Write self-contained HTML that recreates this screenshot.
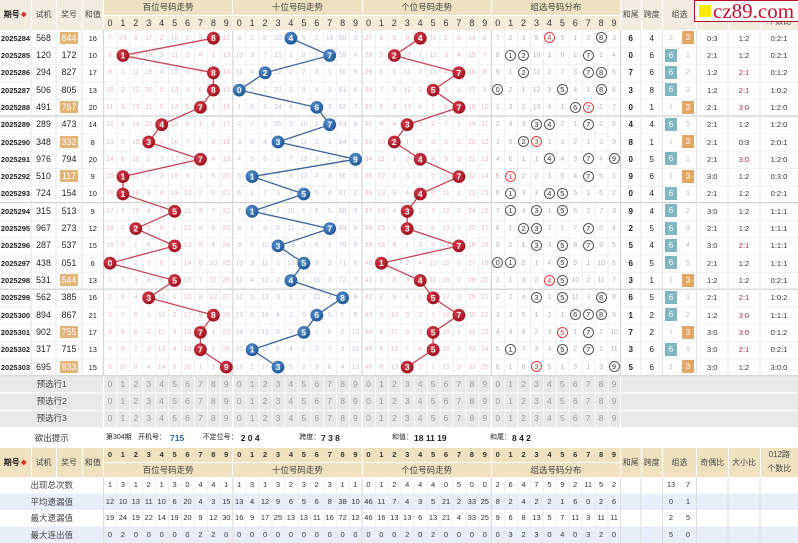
<!DOCTYPE html>
<html><head><meta charset="utf-8"><style>
*{margin:0;padding:0;box-sizing:border-box}
body{width:798px;height:543px;position:relative;overflow:hidden;background:#fff;font-family:"Liberation Sans","Noto Sans CJK SC",sans-serif;color:#333}
.x{position:absolute;display:flex;align-items:center;justify-content:center;text-align:center;font-size:8px;color:#444;white-space:nowrap}
.r{position:absolute;left:0;width:798px;height:17.31px;display:flex;align-items:center;line-height:17px;z-index:1}
.r span{display:block;flex:none;text-align:center;white-space:nowrap}
.a{width:31px;font-size:7.5px;font-weight:bold;color:#222}
.b{width:25px;font-size:8.8px;color:#222}
.c{width:26px;font-size:8.8px;color:#222}
.d{width:21.5px;font-size:7.5px;color:#222}
.s{display:flex!important;width:129.25px}
.s i{display:block;width:12.925px;flex:none;font-style:normal;text-align:center;font-size:7px}
.p i{color:#e3c2c6}
.q i{color:#c4c9d7}
.g i{color:#b7b7b7}
.g b{display:inline-block;width:11px;height:11px;border:1px solid #555;border-radius:50%;font-size:7.5px;line-height:9px;font-weight:normal;color:#333;vertical-align:middle;background:#fff}
.g b.z{border-color:#e23b3b;color:#e23b3b}
.hd i{color:#333;font-size:9px}
.bd i{color:#333;font-size:7.5px;font-weight:bold}
.v i{color:#9a9a9a;font-size:8.5px}
.w i{color:#333;font-size:7.5px}
em{display:inline-block;font-style:normal;background:#e2b476;color:#fff;width:18px;line-height:12px}
.e{width:20.5px;font-size:8px;font-weight:bold;color:#222}
.f{width:21.5px;font-size:8px;color:#222}
.k{display:flex!important;width:34px}
.k i{display:block;width:17px;font-style:normal;text-align:center;font-size:7px;color:#bbb}
.kw i{color:#333;font-size:7.5px}
.k u{display:inline-block;width:12px;height:13px;line-height:13px;text-decoration:none;color:#fff;font-size:8px;vertical-align:middle}
u.m6{background:#80b6bf}
u.m3{background:#e1a866}
.h{width:31.5px;font-size:7.5px;color:#333}
.l{width:32px;font-size:7.5px;color:#333}
.m{width:38px;font-size:7.5px;color:#333}
.rd{color:#a3324a!important}
.lb{width:103.5px;font-size:8.5px;color:#444}
.t{position:absolute;top:431.7px;line-height:12px;font-size:7px;color:#222;white-space:nowrap;z-index:1}
.t b{font-size:8.5px}
</style></head><body>

<svg width="798" height="543" style="position:absolute;left:0;top:0">
<defs>
<pattern id="gv" x="103.5" y="0" width="12.925" height="10" patternUnits="userSpaceOnUse"><rect width="0.8" height="10" fill="#ebebeb"/></pattern>
<pattern id="gw" x="103.5" y="0" width="12.925" height="10" patternUnits="userSpaceOnUse"><rect width="1" height="10" fill="#f6f6f6"/></pattern>
<pattern id="gh" x="0" y="29.5" width="10" height="17.31" patternUnits="userSpaceOnUse"><rect width="10" height="0.8" fill="#efefef"/></pattern>
</defs>
<rect x="0" y="29.5" width="798" height="346.2" fill="url(#gh)"/>
<rect x="103.5" y="29.5" width="517" height="346.2" fill="url(#gv)"/>
<g fill="#e8e8e8">
<rect x="0" y="376.2" width="798" height="16.3"/>
<rect x="0" y="393.5" width="798" height="16.3"/>
<rect x="0" y="410.8" width="798" height="16.3"/>
</g>
<rect x="103.5" y="376" width="517" height="51.5" fill="url(#gw)"/>
<g fill="#e7eef8">
<rect x="0" y="493.5" width="798" height="16.5"/>
<rect x="0" y="526.5" width="798" height="16.5"/>
</g>
<rect x="103.5" y="477" width="517" height="66" fill="url(#gv)"/>
<path d="M103.5 29.5V375.7M232.75 29.5V375.7M362 29.5V375.7M491.25 29.5V375.7M620.5 29.5V375.7" stroke="#d4d4d4"/>
<path d="M0 116.05H798M0 202.6H798M0 289.15H798M0 375.7H798" stroke="#cbcbcb"/>
<path d="M31 29.5V375.7M56 29.5V375.7M82 29.5V375.7M641 29.5V375.7M662.5 29.5V375.7M696.5 29.5V375.7M728 29.5V375.7M760 29.5V375.7" stroke="#e6e6e6"/>
<path d="M103.5 477V543M232.75 477V543M362 477V543M491.25 477V543M620.5 477V543M641 477V543M662.5 477V543M696.5 477V543M728 477V543M760 477V543" stroke="#dcdcdc"/>
<path d="M103.5 376V427M232.75 376V427M362 376V427M491.25 376V427M620.5 376V427" stroke="#fff"/>
</svg>

<!-- top header -->
<div class="x" style="left:0;top:0;width:30.5px;height:29.5px;background:#f3ede1;font-weight:bold;color:#222">期号<span style="color:#d33;font-size:6px;margin-left:1px">◆</span></div>
<div class="x" style="left:31.5px;top:0;width:24px;height:29.5px;background:#f3ede1">试机</div>
<div class="x" style="left:56.5px;top:0;width:25px;height:29.5px;background:#f3ede1">奖号</div>
<div class="x" style="left:82.5px;top:0;width:20.5px;height:29.5px;background:#f3ede1">和值</div>
<div class="x" style="left:104px;top:0;width:128.25px;height:14.5px;background:#efe2c2;font-size:8.5px">百位号码走势</div>
<div class="x" style="left:233.25px;top:0;width:128.25px;height:14.5px;background:#efe2c2;font-size:8.5px">十位号码走势</div>
<div class="x" style="left:362.5px;top:0;width:128.25px;height:14.5px;background:#efe2c2;font-size:8.5px">个位号码走势</div>
<div class="x" style="left:491.75px;top:0;width:128.25px;height:14.5px;background:#efe2c2;font-size:8.5px">组选号码分布</div>
<div class="x" style="left:104px;top:15.5px;width:128.25px;height:14px;background:#f5ecd7"></div>
<div class="x" style="left:233.25px;top:15.5px;width:128.25px;height:14px;background:#f5ecd7"></div>
<div class="x" style="left:362.5px;top:15.5px;width:128.25px;height:14px;background:#f5ecd7"></div>
<div class="x" style="left:491.75px;top:15.5px;width:128.25px;height:14px;background:#f5ecd7"></div>
<div class="x" style="left:621px;top:0;width:19.5px;height:29.5px;background:#f3ede1">和尾</div>
<div class="x" style="left:641.5px;top:0;width:20.5px;height:29.5px;background:#f3ede1">跨度</div>
<div class="x" style="left:663px;top:0;width:33px;height:29.5px;background:#f3ede1">组选</div>
<div class="x" style="left:697px;top:0;width:30.5px;height:29.5px;background:#f3ede1">奇偶比</div>
<div class="x" style="left:728.5px;top:0;width:31px;height:29.5px;background:#f3ede1">大小比</div>
<div class="x" style="left:760.5px;top:0;width:37.5px;height:29.5px;background:#f3ede1;line-height:14px"><span>012路<br>个数比</span></div>
<div class="r" style="top:15.5px;height:14px;line-height:14px"><span style="width:103.5px"></span><span class="s hd"><i>0</i><i>1</i><i>2</i><i>3</i><i>4</i><i>5</i><i>6</i><i>7</i><i>8</i><i>9</i></span><span class="s hd"><i>0</i><i>1</i><i>2</i><i>3</i><i>4</i><i>5</i><i>6</i><i>7</i><i>8</i><i>9</i></span><span class="s hd"><i>0</i><i>1</i><i>2</i><i>3</i><i>4</i><i>5</i><i>6</i><i>7</i><i>8</i><i>9</i></span><span class="s hd"><i>0</i><i>1</i><i>2</i><i>3</i><i>4</i><i>5</i><i>6</i><i>7</i><i>8</i><i>9</i></span></div>

<!-- data rows -->
<div class="r" style="top:29.5px"><span class="a">2025284</span><span class="b">568</span><span class="c"><em>844</em></span><span class="d">16</span><span class="s p"><i>7</i><i>24</i><i>9</i><i>17</i><i>2</i><i>10</i><i>1</i><i>3</i><i></i><i>12</i></span><span class="s q"><i>9</i><i>2</i><i>6</i><i>20</i><i></i><i>5</i><i>1</i><i>18</i><i>58</i><i>3</i></span><span class="s p"><i>27</i><i>4</i><i>5</i><i>9</i><i></i><i>11</i><i>2</i><i>3</i><i>14</i><i>6</i></span><span class="s g"><i>7</i><i>2</i><i>3</i><i>9</i><i><b class="z">4</b></i><i>5</i><i>1</i><i>3</i><i><b>8</b></i><i>3</i></span><span class="e">6</span><span class="f">4</span><span class="k"><i>2</i><i><u class="m3">3</u></i></span><span class="h">0:3</span><span class="l">1:2</span><span class="m">0:2:1</span></div>

<div class="r" style="top:46.81px"><span class="a">2025285</span><span class="b">120</span><span class="c">172</span><span class="d">10</span><span class="s p"><i>8</i><i></i><i>10</i><i>18</i><i>3</i><i>11</i><i>2</i><i>4</i><i>1</i><i>13</i></span><span class="s q"><i>10</i><i>3</i><i>7</i><i>21</i><i>1</i><i>6</i><i>2</i><i></i><i>59</i><i>4</i></span><span class="s p"><i>28</i><i>5</i><i></i><i>10</i><i>1</i><i>12</i><i>3</i><i>4</i><i>15</i><i>7</i></span><span class="s g"><i>8</i><i><b>1</b></i><i><b>2</b></i><i>10</i><i>1</i><i>6</i><i>2</i><i><b>7</b></i><i>1</i><i>4</i></span><span class="e">0</span><span class="f">6</span><span class="k"><i><u class="m6">6</u></i><i>1</i></span><span class="h">2:1</span><span class="l">1:2</span><span class="m">0:2:1</span></div>

<div class="r" style="top:64.12px"><span class="a">2025286</span><span class="b">294</span><span class="c">827</span><span class="d">17</span><span class="s p"><i>9</i><i>1</i><i>11</i><i>19</i><i>4</i><i>12</i><i>3</i><i>5</i><i></i><i>14</i></span><span class="s q"><i>11</i><i>4</i><i></i><i>22</i><i>2</i><i>7</i><i>3</i><i>1</i><i>60</i><i>5</i></span><span class="s p"><i>29</i><i>6</i><i>1</i><i>11</i><i>2</i><i>13</i><i>4</i><i></i><i>16</i><i>8</i></span><span class="s g"><i>9</i><i>1</i><i><b>2</b></i><i>11</i><i>2</i><i>7</i><i>3</i><i><b>7</b></i><i><b>8</b></i><i>5</i></span><span class="e">7</span><span class="f">6</span><span class="k"><i><u class="m6">6</u></i><i>2</i></span><span class="h">1:2</span><span class="l rd">2:1</span><span class="m">0:1:2</span></div>

<div class="r" style="top:81.43px"><span class="a">2025287</span><span class="b">506</span><span class="c">805</span><span class="d">13</span><span class="s p"><i>10</i><i>2</i><i>12</i><i>20</i><i>5</i><i>13</i><i>4</i><i>6</i><i></i><i>15</i></span><span class="s q"><i></i><i>5</i><i>1</i><i>23</i><i>3</i><i>8</i><i>4</i><i>2</i><i>61</i><i>6</i></span><span class="s p"><i>30</i><i>7</i><i>2</i><i>12</i><i>3</i><i></i><i>5</i><i>1</i><i>17</i><i>9</i></span><span class="s g"><i><b>0</b></i><i>2</i><i>1</i><i>12</i><i>3</i><i><b>5</b></i><i>4</i><i>1</i><i><b>8</b></i><i>6</i></span><span class="e">3</span><span class="f">8</span><span class="k"><i><u class="m6">6</u></i><i>3</i></span><span class="h">1:2</span><span class="l rd">2:1</span><span class="m">1:0:2</span></div>

<div class="r" style="top:98.74px"><span class="a">2025288</span><span class="b">491</span><span class="c"><em>767</em></span><span class="d">20</span><span class="s p"><i>11</i><i>3</i><i>13</i><i>21</i><i>6</i><i>14</i><i>5</i><i></i><i>1</i><i>16</i></span><span class="s q"><i>1</i><i>6</i><i>2</i><i>24</i><i>4</i><i>9</i><i></i><i>3</i><i>62</i><i>7</i></span><span class="s p"><i>31</i><i>8</i><i>3</i><i>13</i><i>4</i><i>1</i><i>6</i><i></i><i>18</i><i>10</i></span><span class="s g"><i>1</i><i>3</i><i>2</i><i>13</i><i>4</i><i>1</i><i><b>6</b></i><i><b class="z">7</b></i><i>1</i><i>7</i></span><span class="e">0</span><span class="f">1</span><span class="k"><i>1</i><i><u class="m3">3</u></i></span><span class="h">2:1</span><span class="l rd">3:0</span><span class="m">1:2:0</span></div>

<div class="r" style="top:116.05px"><span class="a">2025289</span><span class="b">289</span><span class="c">473</span><span class="d">14</span><span class="s p"><i>12</i><i>4</i><i>14</i><i>22</i><i></i><i>15</i><i>6</i><i>1</i><i>2</i><i>17</i></span><span class="s q"><i>2</i><i>7</i><i>3</i><i>25</i><i>5</i><i>10</i><i>1</i><i></i><i>63</i><i>8</i></span><span class="s p"><i>32</i><i>9</i><i>4</i><i></i><i>5</i><i>2</i><i>7</i><i>1</i><i>19</i><i>11</i></span><span class="s g"><i>2</i><i>4</i><i>3</i><i><b>3</b></i><i><b>4</b></i><i>2</i><i>1</i><i><b>7</b></i><i>2</i><i>8</i></span><span class="e">4</span><span class="f">4</span><span class="k"><i><u class="m6">6</u></i><i>1</i></span><span class="h">2:1</span><span class="l">1:2</span><span class="m">1:2:0</span></div>

<div class="r" style="top:133.36px"><span class="a">2025290</span><span class="b">348</span><span class="c"><em>332</em></span><span class="d">8</span><span class="s p"><i>13</i><i>5</i><i>15</i><i></i><i>1</i><i>16</i><i>7</i><i>2</i><i>3</i><i>18</i></span><span class="s q"><i>3</i><i>8</i><i>4</i><i></i><i>6</i><i>11</i><i>2</i><i>1</i><i>64</i><i>9</i></span><span class="s p"><i>33</i><i>10</i><i></i><i>1</i><i>6</i><i>3</i><i>8</i><i>2</i><i>20</i><i>12</i></span><span class="s g"><i>3</i><i>5</i><i><b>2</b></i><i><b class="z">3</b></i><i>1</i><i>3</i><i>2</i><i>1</i><i>3</i><i>9</i></span><span class="e">8</span><span class="f">1</span><span class="k"><i>1</i><i><u class="m3">3</u></i></span><span class="h">2:1</span><span class="l">0:3</span><span class="m">2:0:1</span></div>

<div class="r" style="top:150.67px"><span class="a">2025291</span><span class="b">976</span><span class="c">794</span><span class="d">20</span><span class="s p"><i>14</i><i>6</i><i>16</i><i>1</i><i>2</i><i>17</i><i>8</i><i></i><i>4</i><i>19</i></span><span class="s q"><i>4</i><i>9</i><i>5</i><i>1</i><i>7</i><i>12</i><i>3</i><i>2</i><i>65</i><i></i></span><span class="s p"><i>34</i><i>11</i><i>1</i><i>2</i><i></i><i>4</i><i>9</i><i>3</i><i>21</i><i>13</i></span><span class="s g"><i>4</i><i>6</i><i>1</i><i>1</i><i><b>4</b></i><i>4</i><i>3</i><i><b>7</b></i><i>4</i><i><b>9</b></i></span><span class="e">0</span><span class="f">5</span><span class="k"><i><u class="m6">6</u></i><i>1</i></span><span class="h">2:1</span><span class="l rd">3:0</span><span class="m">1:2:0</span></div>

<div class="r" style="top:167.98px"><span class="a">2025292</span><span class="b">510</span><span class="c"><em>117</em></span><span class="d">9</span><span class="s p"><i>15</i><i></i><i>17</i><i>2</i><i>3</i><i>18</i><i>9</i><i>1</i><i>5</i><i>20</i></span><span class="s q"><i>5</i><i></i><i>6</i><i>2</i><i>8</i><i>13</i><i>4</i><i>3</i><i>66</i><i>1</i></span><span class="s p"><i>35</i><i>12</i><i>2</i><i>3</i><i>1</i><i>5</i><i>10</i><i></i><i>22</i><i>14</i></span><span class="s g"><i>5</i><i><b class="z">1</b></i><i>2</i><i>2</i><i>1</i><i>5</i><i>4</i><i><b>7</b></i><i>5</i><i>1</i></span><span class="e">9</span><span class="f">6</span><span class="k"><i>1</i><i><u class="m3">3</u></i></span><span class="h">3:0</span><span class="l">1:2</span><span class="m">0:3:0</span></div>

<div class="r" style="top:185.29px"><span class="a">2025293</span><span class="b">724</span><span class="c">154</span><span class="d">10</span><span class="s p"><i>16</i><i></i><i>18</i><i>3</i><i>4</i><i>19</i><i>10</i><i>2</i><i>6</i><i>21</i></span><span class="s q"><i>6</i><i>1</i><i>7</i><i>3</i><i>9</i><i></i><i>5</i><i>4</i><i>67</i><i>2</i></span><span class="s p"><i>36</i><i>13</i><i>3</i><i>4</i><i></i><i>6</i><i>11</i><i>1</i><i>23</i><i>15</i></span><span class="s g"><i>6</i><i><b>1</b></i><i>3</i><i>3</i><i><b>4</b></i><i><b>5</b></i><i>5</i><i>1</i><i>6</i><i>2</i></span><span class="e">0</span><span class="f">4</span><span class="k"><i><u class="m6">6</u></i><i>1</i></span><span class="h">2:1</span><span class="l">1:2</span><span class="m">0:2:1</span></div>

<div class="r" style="top:202.6px"><span class="a">2025294</span><span class="b">315</span><span class="c">513</span><span class="d">9</span><span class="s p"><i>17</i><i>1</i><i>19</i><i>4</i><i>5</i><i></i><i>11</i><i>3</i><i>7</i><i>22</i></span><span class="s q"><i>7</i><i></i><i>8</i><i>4</i><i>10</i><i>1</i><i>6</i><i>5</i><i>68</i><i>3</i></span><span class="s p"><i>37</i><i>14</i><i>4</i><i></i><i>1</i><i>7</i><i>12</i><i>2</i><i>24</i><i>16</i></span><span class="s g"><i>7</i><i><b>1</b></i><i>4</i><i><b>3</b></i><i>1</i><i><b>5</b></i><i>6</i><i>2</i><i>7</i><i>3</i></span><span class="e">9</span><span class="f">4</span><span class="k"><i><u class="m6">6</u></i><i>2</i></span><span class="h">3:0</span><span class="l">1:2</span><span class="m">1:1:1</span></div>

<div class="r" style="top:219.91px"><span class="a">2025295</span><span class="b">967</span><span class="c">273</span><span class="d">12</span><span class="s p"><i>18</i><i>2</i><i></i><i>5</i><i>6</i><i>1</i><i>12</i><i>4</i><i>8</i><i>23</i></span><span class="s q"><i>8</i><i>1</i><i>9</i><i>5</i><i>11</i><i>2</i><i>7</i><i></i><i>69</i><i>4</i></span><span class="s p"><i>38</i><i>15</i><i>5</i><i></i><i>2</i><i>8</i><i>13</i><i>3</i><i>25</i><i>17</i></span><span class="s g"><i>8</i><i>1</i><i><b>2</b></i><i><b>3</b></i><i>2</i><i>1</i><i>7</i><i><b>7</b></i><i>8</i><i>4</i></span><span class="e">2</span><span class="f">5</span><span class="k"><i><u class="m6">6</u></i><i>3</i></span><span class="h">2:1</span><span class="l">1:2</span><span class="m">1:1:1</span></div>

<div class="r" style="top:237.22px"><span class="a">2025296</span><span class="b">287</span><span class="c">537</span><span class="d">15</span><span class="s p"><i>19</i><i>3</i><i>1</i><i>6</i><i>7</i><i></i><i>13</i><i>5</i><i>9</i><i>24</i></span><span class="s q"><i>9</i><i>2</i><i>10</i><i></i><i>12</i><i>3</i><i>8</i><i>1</i><i>70</i><i>5</i></span><span class="s p"><i>39</i><i>16</i><i>6</i><i>1</i><i>3</i><i>9</i><i>14</i><i></i><i>26</i><i>18</i></span><span class="s g"><i>9</i><i>2</i><i>1</i><i><b>3</b></i><i>3</i><i><b>5</b></i><i>8</i><i><b>7</b></i><i>9</i><i>5</i></span><span class="e">5</span><span class="f">4</span><span class="k"><i><u class="m6">6</u></i><i>4</i></span><span class="h">3:0</span><span class="l rd">2:1</span><span class="m">1:1:1</span></div>

<div class="r" style="top:254.53px"><span class="a">2025297</span><span class="b">438</span><span class="c">051</span><span class="d">6</span><span class="s p"><i></i><i>4</i><i>2</i><i>7</i><i>8</i><i>1</i><i>14</i><i>6</i><i>10</i><i>25</i></span><span class="s q"><i>10</i><i>3</i><i>11</i><i>1</i><i>13</i><i></i><i>9</i><i>2</i><i>71</i><i>6</i></span><span class="s p"><i>40</i><i></i><i>7</i><i>2</i><i>4</i><i>10</i><i>15</i><i>1</i><i>27</i><i>19</i></span><span class="s g"><i><b>0</b></i><i><b>1</b></i><i>2</i><i>1</i><i>4</i><i><b>5</b></i><i>9</i><i>1</i><i>10</i><i>6</i></span><span class="e">6</span><span class="f">5</span><span class="k"><i><u class="m6">6</u></i><i>5</i></span><span class="h">2:1</span><span class="l">1:2</span><span class="m">1:1:1</span></div>

<div class="r" style="top:271.84px"><span class="a">2025298</span><span class="b">531</span><span class="c"><em>544</em></span><span class="d">13</span><span class="s p"><i>1</i><i>5</i><i>3</i><i>8</i><i>9</i><i></i><i>15</i><i>7</i><i>11</i><i>26</i></span><span class="s q"><i>11</i><i>4</i><i>12</i><i>2</i><i></i><i>1</i><i>10</i><i>3</i><i>72</i><i>7</i></span><span class="s p"><i>41</i><i>1</i><i>8</i><i>3</i><i></i><i>11</i><i>16</i><i>2</i><i>28</i><i>20</i></span><span class="s g"><i>1</i><i>1</i><i>3</i><i>2</i><i><b class="z">4</b></i><i><b>5</b></i><i>10</i><i>2</i><i>11</i><i>7</i></span><span class="e">3</span><span class="f">1</span><span class="k"><i>1</i><i><u class="m3">3</u></i></span><span class="h">1:2</span><span class="l">1:2</span><span class="m">0:2:1</span></div>

<div class="r" style="top:289.15px"><span class="a">2025299</span><span class="b">562</span><span class="c">385</span><span class="d">16</span><span class="s p"><i>2</i><i>6</i><i>4</i><i></i><i>10</i><i>1</i><i>16</i><i>8</i><i>12</i><i>27</i></span><span class="s q"><i>12</i><i>5</i><i>13</i><i>3</i><i>1</i><i>2</i><i>11</i><i>4</i><i></i><i>8</i></span><span class="s p"><i>42</i><i>2</i><i>9</i><i>4</i><i>1</i><i></i><i>17</i><i>3</i><i>29</i><i>21</i></span><span class="s g"><i>2</i><i>2</i><i>4</i><i><b>3</b></i><i>1</i><i><b>5</b></i><i>11</i><i>3</i><i><b>8</b></i><i>8</i></span><span class="e">6</span><span class="f">5</span><span class="k"><i><u class="m6">6</u></i><i>1</i></span><span class="h">2:1</span><span class="l rd">2:1</span><span class="m">1:0:2</span></div>

<div class="r" style="top:306.46px"><span class="a">2025300</span><span class="b">894</span><span class="c">867</span><span class="d">21</span><span class="s p"><i>3</i><i>7</i><i>5</i><i>1</i><i>11</i><i>2</i><i>17</i><i>9</i><i></i><i>28</i></span><span class="s q"><i>13</i><i>6</i><i>14</i><i>4</i><i>2</i><i>3</i><i></i><i>5</i><i>1</i><i>9</i></span><span class="s p"><i>43</i><i>3</i><i>10</i><i>5</i><i>2</i><i>1</i><i>18</i><i></i><i>30</i><i>22</i></span><span class="s g"><i>3</i><i>3</i><i>5</i><i>1</i><i>2</i><i>1</i><i><b>6</b></i><i><b>7</b></i><i><b>8</b></i><i>9</i></span><span class="e">1</span><span class="f">2</span><span class="k"><i><u class="m6">6</u></i><i>2</i></span><span class="h">1:2</span><span class="l rd">3:0</span><span class="m">1:1:1</span></div>

<div class="r" style="top:323.77px"><span class="a">2025301</span><span class="b">902</span><span class="c"><em>755</em></span><span class="d">17</span><span class="s p"><i>4</i><i>8</i><i>6</i><i>2</i><i>12</i><i>3</i><i>18</i><i></i><i>1</i><i>29</i></span><span class="s q"><i>14</i><i>7</i><i>15</i><i>5</i><i>3</i><i></i><i>1</i><i>6</i><i>2</i><i>10</i></span><span class="s p"><i>44</i><i>4</i><i>11</i><i>6</i><i>3</i><i></i><i>19</i><i>1</i><i>31</i><i>23</i></span><span class="s g"><i>4</i><i>4</i><i>6</i><i>2</i><i>3</i><i><b class="z">5</b></i><i>1</i><i><b>7</b></i><i>1</i><i>10</i></span><span class="e">7</span><span class="f">2</span><span class="k"><i>1</i><i><u class="m3">3</u></i></span><span class="h">3:0</span><span class="l rd">3:0</span><span class="m">0:1:2</span></div>

<div class="r" style="top:341.08px"><span class="a">2025302</span><span class="b">317</span><span class="c">715</span><span class="d">13</span><span class="s p"><i>5</i><i>9</i><i>7</i><i>3</i><i>13</i><i>4</i><i>19</i><i></i><i>2</i><i>30</i></span><span class="s q"><i>15</i><i></i><i>16</i><i>6</i><i>4</i><i>1</i><i>2</i><i>7</i><i>3</i><i>11</i></span><span class="s p"><i>45</i><i>5</i><i>12</i><i>7</i><i>4</i><i></i><i>20</i><i>2</i><i>32</i><i>24</i></span><span class="s g"><i>5</i><i><b>1</b></i><i>7</i><i>3</i><i>4</i><i><b>5</b></i><i>2</i><i><b>7</b></i><i>2</i><i>11</i></span><span class="e">3</span><span class="f">6</span><span class="k"><i><u class="m6">6</u></i><i>1</i></span><span class="h">3:0</span><span class="l rd">2:1</span><span class="m">0:2:1</span></div>

<div class="r" style="top:358.39px"><span class="a">2025303</span><span class="b">695</span><span class="c"><em>933</em></span><span class="d">15</span><span class="s p"><i>6</i><i>10</i><i>8</i><i>4</i><i>14</i><i>5</i><i>20</i><i>1</i><i>3</i><i></i></span><span class="s q"><i>16</i><i>1</i><i>17</i><i></i><i>5</i><i>2</i><i>3</i><i>8</i><i>4</i><i>12</i></span><span class="s p"><i>46</i><i>6</i><i>13</i><i></i><i>5</i><i>1</i><i>21</i><i>3</i><i>33</i><i>25</i></span><span class="s g"><i>6</i><i>1</i><i>8</i><i><b class="z">3</b></i><i>5</i><i>1</i><i>3</i><i>1</i><i>3</i><i><b>9</b></i></span><span class="e">5</span><span class="f">6</span><span class="k"><i>1</i><i><u class="m3">3</u></i></span><span class="h">3:0</span><span class="l">1:2</span><span class="m">3:0:0</span></div>

<!-- preset rows -->
<div class="r" style="top:375.7px"><span class="lb">预选行1</span><span class="s v"><i>0</i><i>1</i><i>2</i><i>3</i><i>4</i><i>5</i><i>6</i><i>7</i><i>8</i><i>9</i></span><span class="s v"><i>0</i><i>1</i><i>2</i><i>3</i><i>4</i><i>5</i><i>6</i><i>7</i><i>8</i><i>9</i></span><span class="s v"><i>0</i><i>1</i><i>2</i><i>3</i><i>4</i><i>5</i><i>6</i><i>7</i><i>8</i><i>9</i></span><span class="s v"><i>0</i><i>1</i><i>2</i><i>3</i><i>4</i><i>5</i><i>6</i><i>7</i><i>8</i><i>9</i></span></div>
<div class="r" style="top:393.01px"><span class="lb">预选行2</span><span class="s v"><i>0</i><i>1</i><i>2</i><i>3</i><i>4</i><i>5</i><i>6</i><i>7</i><i>8</i><i>9</i></span><span class="s v"><i>0</i><i>1</i><i>2</i><i>3</i><i>4</i><i>5</i><i>6</i><i>7</i><i>8</i><i>9</i></span><span class="s v"><i>0</i><i>1</i><i>2</i><i>3</i><i>4</i><i>5</i><i>6</i><i>7</i><i>8</i><i>9</i></span><span class="s v"><i>0</i><i>1</i><i>2</i><i>3</i><i>4</i><i>5</i><i>6</i><i>7</i><i>8</i><i>9</i></span></div>
<div class="r" style="top:410.32px"><span class="lb">预选行3</span><span class="s v"><i>0</i><i>1</i><i>2</i><i>3</i><i>4</i><i>5</i><i>6</i><i>7</i><i>8</i><i>9</i></span><span class="s v"><i>0</i><i>1</i><i>2</i><i>3</i><i>4</i><i>5</i><i>6</i><i>7</i><i>8</i><i>9</i></span><span class="s v"><i>0</i><i>1</i><i>2</i><i>3</i><i>4</i><i>5</i><i>6</i><i>7</i><i>8</i><i>9</i></span><span class="s v"><i>0</i><i>1</i><i>2</i><i>3</i><i>4</i><i>5</i><i>6</i><i>7</i><i>8</i><i>9</i></span></div>

<!-- hint row -->
<div class="x" style="left:0;top:428px;width:103.5px;height:19px;font-size:8.5px;color:#333">欲出提示</div>
<div class="t" style="left:106px">第304期</div>
<div class="t" style="left:138px">开机号：</div>
<div class="t" style="left:170px"><b style="color:#2f62a8">715</b></div>
<div class="t" style="left:202.7px">不定位号：</div>
<div class="t" style="left:240.7px"><b>2 0 4</b></div>
<div class="t" style="left:299.3px">跨度：</div>
<div class="t" style="left:321px"><b>7 3 8</b></div>
<div class="t" style="left:392px">和值：</div>
<div class="t" style="left:414px"><b>18 11 19</b></div>
<div class="t" style="left:490px">和尾：</div>
<div class="t" style="left:512px"><b>8 4 2</b></div>

<!-- bottom header -->
<div class="x" style="left:0;top:447.5px;width:30.5px;height:29.5px;background:#f0e2c0;font-weight:bold;color:#222">期号<span style="color:#d33;font-size:6px;margin-left:1px">◆</span></div>
<div class="x" style="left:31.5px;top:447.5px;width:24px;height:29.5px;background:#f0e2c0">试机</div>
<div class="x" style="left:56.5px;top:447.5px;width:25px;height:29.5px;background:#f0e2c0">奖号</div>
<div class="x" style="left:82.5px;top:447.5px;width:20.5px;height:29.5px;background:#f0e2c0">和值</div>
<div class="x" style="left:104px;top:447.5px;width:128.25px;height:14px;background:#f0e2c0"></div>
<div class="x" style="left:233.25px;top:447.5px;width:128.25px;height:14px;background:#f0e2c0"></div>
<div class="x" style="left:362.5px;top:447.5px;width:128.25px;height:14px;background:#f0e2c0"></div>
<div class="x" style="left:491.75px;top:447.5px;width:128.25px;height:14px;background:#f0e2c0"></div>
<div class="x" style="left:104px;top:462.5px;width:128.25px;height:14.5px;background:#f0e2c0;font-size:8.5px">百位号码走势</div>
<div class="x" style="left:233.25px;top:462.5px;width:128.25px;height:14.5px;background:#f0e2c0;font-size:8.5px">十位号码走势</div>
<div class="x" style="left:362.5px;top:462.5px;width:128.25px;height:14.5px;background:#f0e2c0;font-size:8.5px">个位号码走势</div>
<div class="x" style="left:491.75px;top:462.5px;width:128.25px;height:14.5px;background:#f0e2c0;font-size:8.5px">组选号码分布</div>
<div class="x" style="left:621px;top:447.5px;width:19.5px;height:29.5px;background:#f0e2c0">和尾</div>
<div class="x" style="left:641.5px;top:447.5px;width:20.5px;height:29.5px;background:#f0e2c0">跨度</div>
<div class="x" style="left:663px;top:447.5px;width:33px;height:29.5px;background:#f0e2c0">组选</div>
<div class="x" style="left:697px;top:447.5px;width:30.5px;height:29.5px;background:#f0e2c0">奇偶比</div>
<div class="x" style="left:728.5px;top:447.5px;width:31px;height:29.5px;background:#f0e2c0">大小比</div>
<div class="x" style="left:760.5px;top:447.5px;width:37.5px;height:29.5px;background:#f0e2c0;line-height:14px"><span>012路<br>个数比</span></div>
<div class="r" style="top:447.5px;height:14px;line-height:14px"><span style="width:103.5px"></span><span class="s bd"><i>0</i><i>1</i><i>2</i><i>3</i><i>4</i><i>5</i><i>6</i><i>7</i><i>8</i><i>9</i></span><span class="s bd"><i>0</i><i>1</i><i>2</i><i>3</i><i>4</i><i>5</i><i>6</i><i>7</i><i>8</i><i>9</i></span><span class="s bd"><i>0</i><i>1</i><i>2</i><i>3</i><i>4</i><i>5</i><i>6</i><i>7</i><i>8</i><i>9</i></span><span class="s bd"><i>0</i><i>1</i><i>2</i><i>3</i><i>4</i><i>5</i><i>6</i><i>7</i><i>8</i><i>9</i></span></div>

<!-- bottom stats -->
<div class="r" style="top:477px;height:16.5px;line-height:16.5px"><span class="lb">出现总次数</span><span class="s w"><i>1</i><i>3</i><i>1</i><i>2</i><i>1</i><i>3</i><i>0</i><i>4</i><i>4</i><i>1</i></span><span class="s w"><i>1</i><i>3</i><i>1</i><i>3</i><i>2</i><i>3</i><i>2</i><i>3</i><i>1</i><i>1</i></span><span class="s w"><i>0</i><i>1</i><i>2</i><i>4</i><i>4</i><i>4</i><i>0</i><i>5</i><i>0</i><i>0</i></span><span class="s w"><i>2</i><i>6</i><i>4</i><i>7</i><i>5</i><i>9</i><i>2</i><i>11</i><i>5</i><i>2</i></span><span style="width:20.5px"></span><span style="width:21.5px"></span><span class="k kw"><i>13</i><i>7</i></span></div>
<div class="r" style="top:493.5px;height:16.5px;line-height:16.5px"><span class="lb">平均遗漏值</span><span class="s w"><i>12</i><i>10</i><i>13</i><i>11</i><i>10</i><i>6</i><i>20</i><i>4</i><i>3</i><i>15</i></span><span class="s w"><i>13</i><i>4</i><i>12</i><i>9</i><i>6</i><i>5</i><i>6</i><i>8</i><i>38</i><i>10</i></span><span class="s w"><i>46</i><i>11</i><i>7</i><i>4</i><i>3</i><i>5</i><i>21</i><i>2</i><i>33</i><i>25</i></span><span class="s w"><i>8</i><i>2</i><i>4</i><i>2</i><i>2</i><i>1</i><i>6</i><i>0</i><i>2</i><i>6</i></span><span style="width:20.5px"></span><span style="width:21.5px"></span><span class="k kw"><i>0</i><i>1</i></span></div>
<div class="r" style="top:510px;height:16.5px;line-height:16.5px"><span class="lb">最大遗漏值</span><span class="s w"><i>19</i><i>24</i><i>19</i><i>22</i><i>14</i><i>19</i><i>20</i><i>9</i><i>12</i><i>30</i></span><span class="s w"><i>16</i><i>9</i><i>17</i><i>25</i><i>13</i><i>13</i><i>11</i><i>16</i><i>72</i><i>12</i></span><span class="s w"><i>46</i><i>16</i><i>13</i><i>13</i><i>6</i><i>13</i><i>21</i><i>4</i><i>33</i><i>25</i></span><span class="s w"><i>9</i><i>6</i><i>8</i><i>13</i><i>5</i><i>7</i><i>11</i><i>3</i><i>11</i><i>11</i></span><span style="width:20.5px"></span><span style="width:21.5px"></span><span class="k kw"><i>2</i><i>5</i></span></div>
<div class="r" style="top:526.5px;height:16.5px;line-height:16.5px"><span class="lb">最大连出值</span><span class="s w"><i>0</i><i>2</i><i>0</i><i>0</i><i>0</i><i>0</i><i>0</i><i>2</i><i>2</i><i>0</i></span><span class="s w"><i>0</i><i>0</i><i>0</i><i>0</i><i>0</i><i>0</i><i>0</i><i>0</i><i>0</i><i>0</i></span><span class="s w"><i>0</i><i>0</i><i>0</i><i>2</i><i>0</i><i>2</i><i>0</i><i>0</i><i>0</i><i>0</i></span><span class="s w"><i>0</i><i>3</i><i>2</i><i>3</i><i>0</i><i>4</i><i>0</i><i>3</i><i>2</i><i>0</i></span><span style="width:20.5px"></span><span style="width:21.5px"></span><span class="k kw"><i>5</i><i>0</i></span></div>

<!-- trend overlay -->
<svg width="798" height="543" style="position:absolute;left:0;top:0;z-index:2">
<defs>
<radialGradient id="rb" cx="40%" cy="35%" r="65%"><stop offset="0" stop-color="#d8404f"/><stop offset="1" stop-color="#a0101f"/></radialGradient>
<radialGradient id="bb" cx="40%" cy="35%" r="65%"><stop offset="0" stop-color="#5a94cf"/><stop offset="1" stop-color="#1f5797"/></radialGradient>
</defs>
<g fill="none" stroke-width="1.3">
<polyline stroke="#c4475a" points="213.4,38.2 122.9,55.5 213.4,72.8 213.4,90.1 200.4,107.4 161.7,124.7 148.7,142 200.4,159.3 122.9,176.6 122.9,194 174.6,211.3 135.8,228.6 174.6,245.9 110,263.2 174.6,280.5 148.7,297.8 213.4,315.1 200.4,332.4 200.4,349.7 226.3,367.1"/>
<polyline stroke="#3f6396" points="290.9,38.2 329.7,55.5 265.1,72.8 239.2,90.1 316.8,107.4 329.7,124.7 278,142 355.5,159.3 252.1,176.6 303.8,194 252.1,211.3 329.7,228.6 278,245.9 303.8,263.2 290.9,280.5 342.6,297.8 316.8,315.1 303.8,332.4 252.1,349.7 278,367.1"/>
<polyline stroke="#c4475a" points="420.2,38.2 394.3,55.5 458.9,72.8 433.1,90.1 458.9,107.4 407.2,124.7 394.3,142 420.2,159.3 458.9,176.6 420.2,194 407.2,211.3 407.2,228.6 458.9,245.9 381.4,263.2 420.2,280.5 433.1,297.8 458.9,315.1 433.1,332.4 433.1,349.7 407.2,367.1"/>
</g>
<g fill="url(#rb)">
<circle cx="213.4" cy="38.2" r="6.4"/><circle cx="122.9" cy="55.5" r="6.4"/><circle cx="213.4" cy="72.8" r="6.4"/><circle cx="213.4" cy="90.1" r="6.4"/><circle cx="200.4" cy="107.4" r="6.4"/><circle cx="161.7" cy="124.7" r="6.4"/><circle cx="148.7" cy="142" r="6.4"/><circle cx="200.4" cy="159.3" r="6.4"/><circle cx="122.9" cy="176.6" r="6.4"/><circle cx="122.9" cy="194" r="6.4"/><circle cx="174.6" cy="211.3" r="6.4"/><circle cx="135.8" cy="228.6" r="6.4"/><circle cx="174.6" cy="245.9" r="6.4"/><circle cx="110" cy="263.2" r="6.4"/><circle cx="174.6" cy="280.5" r="6.4"/><circle cx="148.7" cy="297.8" r="6.4"/><circle cx="213.4" cy="315.1" r="6.4"/><circle cx="200.4" cy="332.4" r="6.4"/><circle cx="200.4" cy="349.7" r="6.4"/><circle cx="226.3" cy="367.1" r="6.4"/>
<circle cx="420.2" cy="38.2" r="6.4"/><circle cx="394.3" cy="55.5" r="6.4"/><circle cx="458.9" cy="72.8" r="6.4"/><circle cx="433.1" cy="90.1" r="6.4"/><circle cx="458.9" cy="107.4" r="6.4"/><circle cx="407.2" cy="124.7" r="6.4"/><circle cx="394.3" cy="142" r="6.4"/><circle cx="420.2" cy="159.3" r="6.4"/><circle cx="458.9" cy="176.6" r="6.4"/><circle cx="420.2" cy="194" r="6.4"/><circle cx="407.2" cy="211.3" r="6.4"/><circle cx="407.2" cy="228.6" r="6.4"/><circle cx="458.9" cy="245.9" r="6.4"/><circle cx="381.4" cy="263.2" r="6.4"/><circle cx="420.2" cy="280.5" r="6.4"/><circle cx="433.1" cy="297.8" r="6.4"/><circle cx="458.9" cy="315.1" r="6.4"/><circle cx="433.1" cy="332.4" r="6.4"/><circle cx="433.1" cy="349.7" r="6.4"/><circle cx="407.2" cy="367.1" r="6.4"/>
</g>
<g fill="url(#bb)">
<circle cx="290.9" cy="38.2" r="6.4"/><circle cx="329.7" cy="55.5" r="6.4"/><circle cx="265.1" cy="72.8" r="6.4"/><circle cx="239.2" cy="90.1" r="6.4"/><circle cx="316.8" cy="107.4" r="6.4"/><circle cx="329.7" cy="124.7" r="6.4"/><circle cx="278" cy="142" r="6.4"/><circle cx="355.5" cy="159.3" r="6.4"/><circle cx="252.1" cy="176.6" r="6.4"/><circle cx="303.8" cy="194" r="6.4"/><circle cx="252.1" cy="211.3" r="6.4"/><circle cx="329.7" cy="228.6" r="6.4"/><circle cx="278" cy="245.9" r="6.4"/><circle cx="303.8" cy="263.2" r="6.4"/><circle cx="290.9" cy="280.5" r="6.4"/><circle cx="342.6" cy="297.8" r="6.4"/><circle cx="316.8" cy="315.1" r="6.4"/><circle cx="303.8" cy="332.4" r="6.4"/><circle cx="252.1" cy="349.7" r="6.4"/><circle cx="278" cy="367.1" r="6.4"/>
</g>
<g fill="#fff" font-size="8.5" font-weight="bold" text-anchor="middle" font-family="Liberation Sans, sans-serif">
<text x="213.4" y="41.2">8</text><text x="122.9" y="58.5">1</text><text x="213.4" y="75.8">8</text><text x="213.4" y="93.1">8</text><text x="200.4" y="110.4">7</text><text x="161.7" y="127.7">4</text><text x="148.7" y="145">3</text><text x="200.4" y="162.3">7</text><text x="122.9" y="179.6">1</text><text x="122.9" y="197">1</text><text x="174.6" y="214.3">5</text><text x="135.8" y="231.6">2</text><text x="174.6" y="248.9">5</text><text x="110" y="266.2">0</text><text x="174.6" y="283.5">5</text><text x="148.7" y="300.8">3</text><text x="213.4" y="318.1">8</text><text x="200.4" y="335.4">7</text><text x="200.4" y="352.7">7</text><text x="226.3" y="370.1">9</text>
<text x="290.9" y="41.2">4</text><text x="329.7" y="58.5">7</text><text x="265.1" y="75.8">2</text><text x="239.2" y="93.1">0</text><text x="316.8" y="110.4">6</text><text x="329.7" y="127.7">7</text><text x="278" y="145">3</text><text x="355.5" y="162.3">9</text><text x="252.1" y="179.6">1</text><text x="303.8" y="197">5</text><text x="252.1" y="214.3">1</text><text x="329.7" y="231.6">7</text><text x="278" y="248.9">3</text><text x="303.8" y="266.2">5</text><text x="290.9" y="283.5">4</text><text x="342.6" y="300.8">8</text><text x="316.8" y="318.1">6</text><text x="303.8" y="335.4">5</text><text x="252.1" y="352.7">1</text><text x="278" y="370.1">3</text>
<text x="420.2" y="41.2">4</text><text x="394.3" y="58.5">2</text><text x="458.9" y="75.8">7</text><text x="433.1" y="93.1">5</text><text x="458.9" y="110.4">7</text><text x="407.2" y="127.7">3</text><text x="394.3" y="145">2</text><text x="420.2" y="162.3">4</text><text x="458.9" y="179.6">7</text><text x="420.2" y="197">4</text><text x="407.2" y="214.3">3</text><text x="407.2" y="231.6">3</text><text x="458.9" y="248.9">7</text><text x="381.4" y="266.2">1</text><text x="420.2" y="283.5">4</text><text x="433.1" y="300.8">5</text><text x="458.9" y="318.1">7</text><text x="433.1" y="335.4">5</text><text x="433.1" y="352.7">5</text><text x="407.2" y="370.1">3</text>
</g>
</svg>

<!-- logo -->
<div style="position:absolute;left:694px;top:0;width:106px;height:22px;background:#fff;border:1.5px solid #b3112a;z-index:5">
<div style="position:absolute;left:4px;top:4px;width:12px;height:12px;background:#ffea00"></div>
<div style="position:absolute;left:18px;top:-2px;font-family:'Liberation Serif',serif;font-size:21px;line-height:24px;color:#c8102e;white-space:nowrap">cz89.com</div>
</div>

</body></html>
